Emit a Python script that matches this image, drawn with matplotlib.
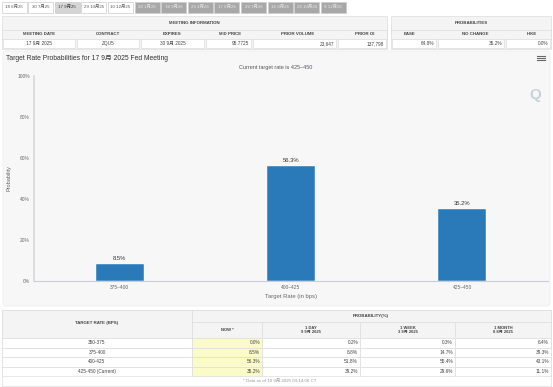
import numpy as np
import matplotlib.pyplot as plt
from matplotlib.patches import Rectangle, FancyBboxPatch

plt.rcParams['font.family'] = ['Liberation Sans', 'Noto Sans CJK SC', 'DejaVu Sans']

# --- data ---
tab_labels = ['18 6月25', '30 7月25', '17 9月25', '29 10月25', '10 12月25', '28 1月26', '18 3月26',
              '29 4月26', '17 6月26', '29 7月26', '16 9月26', '28 10月26', '9 12月26']
meeting_cols = ['MEETING DATE', 'CONTRACT', 'EXPIRES', 'MID PRICE', 'PRIOR VOLUME', 'PRIOR OI']
meeting_vals = ['17 9月 2025', 'ZQU5', '30 9月 2025', '95.7725', '23,647', '137,798']
prob_cols = ['EASE', 'NO CHANGE', 'HIKE']
prob_vals = ['64.8%', '35.2%', '0.0%']

categories = ['375–400', '400–425', '425–450']
probs = [8.5, 56.3, 35.2]

rate_rows = ['350-375', '375-400', '400-425', '425-450 (Current)']
hist_cols = ['NOW *', '1 DAY\n9 9月 2025', '1 WEEK\n3 9月 2025', '1 MONTH\n8 8月 2025']
now_vals = [0.0, 8.5, 56.3, 35.2]
day_vals = [0.2, 8.8, 51.8, 39.2]
week_vals = [0.3, 14.7, 55.4, 29.6]
month_vals = [6.4, 39.3, 43.1, 11.1]

fig = plt.figure(figsize=(5.53, 3.87), dpi=100)
fig.patch.set_facecolor('white')
ov = fig.add_axes([0, 0, 1, 1])
ov.set_xlim(0, 553)
ov.set_ylim(387, 0)
ov.axis('off')

line_c = '#dddddd'
txt_c = '#444444'

def box(x0, y0, x1, y1, fc, ec=line_c, lw=0.5):
    ov.add_patch(Rectangle((x0, y0), x1 - x0, y1 - y0, facecolor=fc, edgecolor=ec, linewidth=lw))

# tabs
for i, lab in enumerate(tab_labels):
    cx = 14 + 26.6 * i
    if i == 2:
        fc, tc = '#d5d5d5', '#333333'
    elif i >= 5:
        fc, tc = '#a8a8a8', '#e8e8e8'
    else:
        fc, tc = 'white', '#555555'
    box(cx - 12.5, 1.5, cx + 12.5, 12.5, fc, ec='#cccccc')
    ov.text(cx, 7, lab, fontsize=3.2, color=tc, ha='center', va='center')

# top tables
box(2, 16, 387, 49, '#f4f4f4')
box(2, 29.5, 387, 38.5, '#f4f4f4')
ov.text(194, 23.5, 'MEETING INFORMATION', fontsize=3.2, weight='bold', color=txt_c, ha='center', va='center')
col_edges = [2, 76, 140, 205, 252, 337, 387]
for j, name in enumerate(meeting_cols):
    ov.text((col_edges[j] + col_edges[j + 1]) / 2 if j < 3 else [230, 298, 365][j - 3], 34, name,
            fontsize=3.2, weight='bold', color=txt_c, ha='center', va='center')
    box(col_edges[j] + 1, 39, col_edges[j + 1] - 1, 48, 'white')
    if j < 3:
        ov.text((col_edges[j] + col_edges[j + 1]) / 2, 43.5, meeting_vals[j], fontsize=3.4, color=txt_c,
                ha='center', va='center')
    else:
        ov.text(col_edges[j + 1] - 3, 43.5, meeting_vals[j], fontsize=3.4, color=txt_c, ha='right', va='center')

box(391, 16, 551, 49, '#f4f4f4')
box(391, 29.5, 551, 38.5, '#f4f4f4')
ov.text(471, 23.5, 'PROBABILITIES', fontsize=3.2, weight='bold', color=txt_c, ha='center', va='center')
p_edges = [391, 437, 505, 551]
for j, name in enumerate(prob_cols):
    ov.text([410, 475, 532][j], 34, name, fontsize=3.2, weight='bold', color=txt_c, ha='center', va='center')
    box(p_edges[j] + 1, 39, p_edges[j + 1] - 1, 48, 'white')
    ov.text(p_edges[j + 1] - 3, 43.5, prob_vals[j], fontsize=3.4, color=txt_c, ha='right', va='center')

# chart panel
ov.add_patch(FancyBboxPatch((3, 51), 547, 255, boxstyle='round,pad=0,rounding_size=3',
                            facecolor='#f7f7f7', edgecolor='#eeeeee', linewidth=0.6))
ov.text(6, 58, 'Target Rate Probabilities for 17 9月 2025 Fed Meeting', fontsize=4.9, color='#333333',
        ha='left', va='center')
ov.text(276, 67.5, 'Current target rate is 425–450', fontsize=4.0, color='#555566', ha='center', va='center')
for dy in (-1.6, 0, 1.6):
    ov.plot([537, 545], [58 + dy, 58 + dy], color='#666666', lw=0.8)
ov.text(535, 95, 'Q', fontsize=11, color='#c9d3d3', ha='center', va='center', weight='bold')

ax = fig.add_axes([34 / 553, 1 - 281 / 387, (548 - 34) / 553, 205 / 387])
ax.set_facecolor('none')
x = np.arange(len(categories))
bars = ax.bar(x, probs, width=0.28, color='#2a7ab9', edgecolor='white', linewidth=0.3)
for xi, p in zip(x, probs):
    ax.text(xi, p + 1.2, f'{p}%', fontsize=4.2, color='#333333', ha='center', va='bottom')
ax.set_xlim(-0.5, len(categories) - 0.5)
ax.set_ylim(0, 100)
ax.set_yticks(range(0, 101, 20))
ax.set_yticklabels([f'{v}%' for v in range(0, 101, 20)])
ax.set_xticks(x)
ax.set_xticklabels(categories)
ax.tick_params(axis='both', length=0, labelsize=3.5, labelcolor='#666666', pad=3)
for s in ['top', 'right']:
    ax.spines[s].set_visible(False)
ax.spines['left'].set_color('#d8d8d8')
ax.spines['left'].set_linewidth(1.2)
ax.spines['bottom'].set_color('#ccccdd')
ax.spines['bottom'].set_linewidth(0.8)
ax.set_xlabel('Target Rate (in bps)', fontsize=4.2, color='#666666', labelpad=3)
ax.set_ylabel('Probability', fontsize=4.0, color='#666666', labelpad=4)

# bottom table
box(2, 310, 551, 386, 'white')
box(2, 310, 192, 338, '#f4f4f4')
box(192, 310, 551, 322, '#f4f4f4')
ov.text(97, 323, 'TARGET RATE (BPS)', fontsize=3.2, weight='bold', color=txt_c, ha='center', va='center')
ov.text(371, 316, 'PROBABILITY(%)', fontsize=3.2, weight='bold', color=txt_c, ha='center', va='center')
h_edges = [192, 262, 360, 455, 551]
series = [now_vals, day_vals, week_vals, month_vals]
row_y = [338 + 9.5 * k for k in range(len(rate_rows) + 1)]
for j, name in enumerate(hist_cols):
    box(h_edges[j], 322, h_edges[j + 1], 338, '#f4f4f4')
    ov.text((h_edges[j] + h_edges[j + 1]) / 2, 330, name, fontsize=3.0, weight='bold', color=txt_c,
            ha='center', va='center', linespacing=1.1)
for k, lab in enumerate(rate_rows):
    y0, y1 = row_y[k], row_y[k + 1]
    box(2, y0, 192, y1, 'white')
    ov.text(97, (y0 + y1) / 2, lab, fontsize=3.4, color=txt_c, ha='center', va='center')
    for j, vals in enumerate(series):
        box(h_edges[j], y0, h_edges[j + 1], y1, '#fbfbc9' if j == 0 else 'white')
        ov.text(h_edges[j + 1] - 2, (y0 + y1) / 2, f'{vals[k]:.1f}%', fontsize=3.4, color=txt_c,
                ha='right', va='center')
ov.text(280, 381, '* Data as of 10 9月 2025 03:14:06 CT', fontsize=3.2, color='#999999', ha='center', va='center')

fig.savefig('out.png', dpi=100)
